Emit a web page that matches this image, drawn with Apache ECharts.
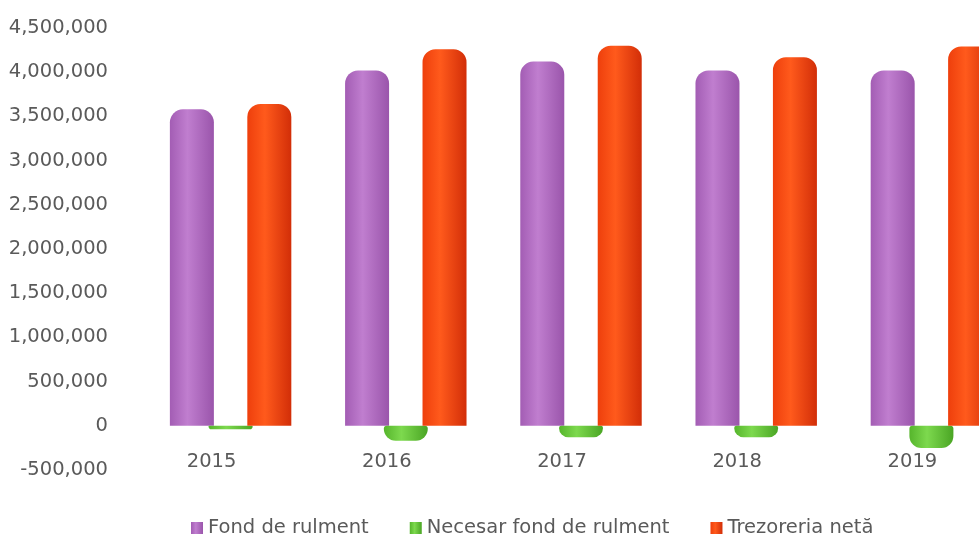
<!DOCTYPE html>
<html>
<head>
<meta charset="utf-8">
<script src="https://cdn.jsdelivr.net/npm/echarts@6/dist/echarts.min.js"></script>
<style>
  html, body { margin: 0; padding: 0; background: #fff; }
  #chart { width: 979px; height: 539px; }
</style>
</head>
<body>
<div id="chart"></div>
<script>
// ani si serii
var years = ['2015', '2016', '2017', '2018', '2019'];
var fondRulment = [3580000, 4020000, 4120000, 4020000, 4020000];
var necesarFond = [-40000, -170000, -130000, -130000, -250000];
var trezoreria = [3640000, 4260000, 4300000, 4170000, 4290000];
var seriesNames = ['Fond de rulment', 'Necesar fond de rulment', 'Trezoreria netă'];
var yTicks = { min: -500000, max: 4500000, step: 500000 };

var font = 'DejaVu Sans';
var grey = '#5a5a5a';

// gradient orizontal ca sa para cilindru
function cyl(dark, light, edge) {
    return new echarts.graphic.LinearGradient(0, 0, 1, 0, [
        { offset: 0, color: dark },
        { offset: 0.4, color: light },
        { offset: 1, color: edge }
    ]);
}

var chart = echarts.init(document.getElementById('chart'));

var option = {
    backgroundColor: '#ffffff',
    animation: false,
    grid: {
        left: 143,
        top: 28,
        width: 876,
        bottom: 69,
        outerBoundsMode: 'none'
    },
    legend: {
        data: seriesNames,
        left: 186,
        top: 513,
        icon: 'rect',
        itemWidth: 12,
        itemHeight: 12,
        itemGap: 41,
        textStyle: { fontFamily: font, fontSize: 19.5, color: grey }
    },
    xAxis: {
        type: 'category',
        data: years,
        offset: -43,   // etichetele stau langa linia de zero
        axisLine: { show: false },
        axisTick: { show: false },
        axisLabel: {
            margin: 25,
            fontFamily: font,
            fontSize: 19.5,
            color: grey,
            padding: [0, 38, 0, 0]
        }
    },
    yAxis: {
        type: 'value',
        min: yTicks.min,
        max: yTicks.max,
        interval: yTicks.step,
        splitLine: { show: false },
        axisLine: { show: false },
        axisTick: { show: false },
        axisLabel: {
            margin: 35,
            fontFamily: font,
            fontSize: 19.5,
            color: grey,
            formatter: function (v) {
                return v.toLocaleString('en-US');
            }
        }
    },
    series: [
        {
            name: seriesNames[0],
            type: 'bar',
            data: fondRulment,
            barWidth: 44,
            barGap: '-12%',
            itemStyle: {
                color: cyl('#a35db4', '#c07ecf', '#9a55ab'),
                borderRadius: [13, 13, 0, 0]
            }
        },
        {
            name: seriesNames[1],
            type: 'bar',
            data: necesarFond,
            barWidth: 44,
            barGap: '-12%',
            itemStyle: {
                color: cyl('#56b52c', '#7dd94e', '#4aa524'),
                borderRadius: [3, 3, 12, 12]
            }
        },
        {
            name: seriesNames[2],
            type: 'bar',
            data: trezoreria,
            barWidth: 44,
            barGap: '-12%',
            itemStyle: {
                color: cyl('#ee3f0c', '#ff5a1c', '#d22e08'),
                borderRadius: [13, 13, 0, 0]
            }
        }
    ]
};

chart.setOption(option);
</script>
</body>
</html>
